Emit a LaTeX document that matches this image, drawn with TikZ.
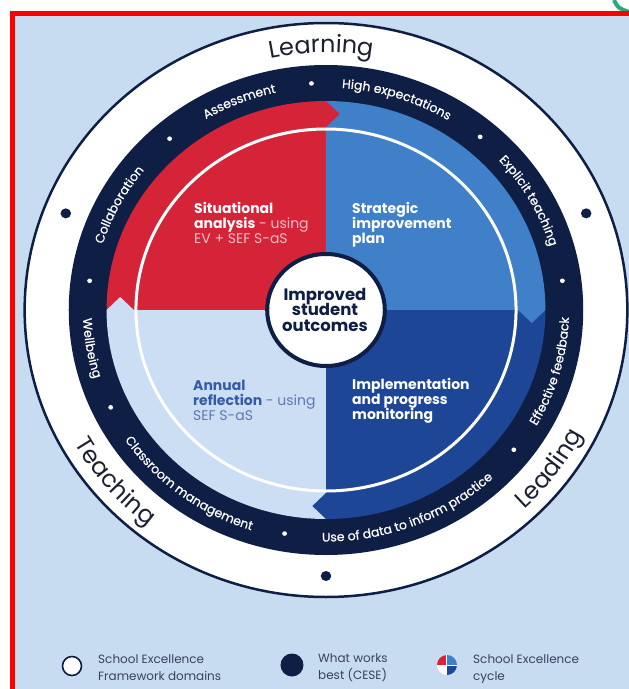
\documentclass[tikz,border=0pt]{standalone}
\usepackage{fontspec}
\setmainfont{Poppins}
\newfontfamily\bandfont[FakeBold=0.6]{Poppins}
\usetikzlibrary{decorations.text}
\definecolor{bgblue}{RGB}{199,220,241}
\definecolor{navy}{RGB}{14,30,68}
\definecolor{cred}{RGB}{213,36,56}
\definecolor{cblue}{RGB}{64,128,200}
\definecolor{cdark}{RGB}{30,70,150}
\definecolor{clight}{RGB}{203,222,243}
\definecolor{pinktxt}{RGB}{245,190,198}
\definecolor{annualbold}{RGB}{55,90,165}
\definecolor{annualreg}{RGB}{95,120,175}
\definecolor{legtxt}{RGB}{55,66,92}
\definecolor{ringtxt}{RGB}{28,32,48}
\definecolor{cgreen}{RGB}{40,170,120}
\newcommand\toparc[4]{\path[decorate,decoration={text along path,text align=center,text={#4}}] ({#1+#3}:#2) arc[start angle={#1+#3}, end angle={#1-#3}, radius=#2];}
\newcommand\botarc[4]{\path[decorate,decoration={text along path,text align=center,text={#4}}] ({#1-#3}:#2) arc[start angle={#1-#3}, end angle={#1+#3}, radius=#2];}
\tikzset{
  qbold/.style={anchor=base west, inner sep=0, font=\fontsize{14}{15}\selectfont\bfseries},
  qreg/.style={anchor=base west, inner sep=0, font=\fontsize{14}{15}\selectfont},
  ctr/.style={anchor=base, inner sep=0, font=\fontsize{16.5}{16}\selectfont\bfseries, text=navy},
  legtext/.style={anchor=base west, inner sep=0, font=\fontsize{12}{14}\selectfont, text=legtxt},
}
\begin{document}
\begin{tikzpicture}[x=1pt,y=1pt]
\useasboundingbox (-326,-379) rectangle (303,310);
\fill[white] (-326,-379) rectangle (303,310);
\draw[cgreen, line width=4] (288,310) .. controls (292,302) .. (303,298);
\fill[bgblue] (-313,-379) rectangle (303,297);
\draw[red, line width=5] (-313,-379) -- (-313,297) -- (303,297);
\begin{scope}[xscale=1.05]
  \draw[navy, line width=2.5, fill=white] (0,0) circle (287);
  \fill[navy] (0,0) circle (245);
  \fill[cred] (0,0) -- (180:209) arc[start angle=180,end angle=90,radius=209] -- cycle;
  \fill[cblue] (0,0) -- (90:209) arc[start angle=90,end angle=0,radius=209] -- cycle;
  \fill[cdark] (0,0) -- (0:209) arc[start angle=0,end angle=-90,radius=209] -- cycle;
  \fill[clight] (0,0) -- (-90:209) arc[start angle=-90,end angle=-180,radius=209] -- cycle;
  \fill[cred] (0,209) -- (13,196) -- (0,183) -- cycle;
  \fill[cblue] (209,0) -- (196,-13) -- (183,0) -- cycle;
  \fill[cdark] (0,-209) -- (-13,-196) -- (0,-183) -- cycle;
  \fill[clight] (-209,0) -- (-196,13) -- (-183,0) -- cycle;
  \draw[white, line width=3] (0,0) circle (181);
  \draw[navy, line width=4, fill=white] (0,0) circle (56);
  % dots in navy band
  \foreach \a in {93.5,49.7,7.4,-38,260,205.4,172.6,131} \fill[white] (\a:227) circle (2.3);
  % dots in white ring
  \foreach \a in {158.7,21.3,270} \fill[navy] (\a:266) circle (5);
  % navy band labels
  \toparc{112}{222.5}{40}{|\bandfont\fontsize{12.5}{14}\selectfont\color{white}|Assessment}
  \toparc{72}{222.5}{40}{|\bandfont\fontsize{12.5}{14}\selectfont\color{white}|High expectations}
  \toparc{29}{222.5}{40}{|\bandfont\fontsize{12.5}{14}\selectfont\color{white}|Explicit teaching}
  \toparc{152.4}{222.5}{40}{|\bandfont\fontsize{12.5}{14}\selectfont\color{white}|Collaboration}
  \botarc{-15.7}{231.5}{40}{|\bandfont\fontsize{12.5}{14}\selectfont\color{white}|Effective feedback}
  \botarc{-68.5}{231.5}{40}{|\bandfont\fontsize{12.5}{14}\selectfont\color{white}|Use of data to inform practice}
  \botarc{232.7}{231.5}{40}{|\bandfont\fontsize{12.5}{14}\selectfont\color{white}|Classroom management}
  \botarc{189.5}{231.5}{40}{|\bandfont\fontsize{12.5}{14}\selectfont\color{white}|Wellbeing}
  % outer ring labels
  \toparc{91}{257.5}{40}{|\fontsize{24}{26}\selectfont\color{ringtxt}|Learning}
  \botarc{220}{274.5}{40}{|\fontsize{24}{26}\selectfont\color{ringtxt}|Teaching}
  \botarc{-36.3}{274.5}{40}{|\fontsize{24}{26}\selectfont\color{ringtxt}|Leading}
\end{scope}
% quadrant texts
\node[qbold, text=white] (s1) at (-132,97) {Situational};
\node[qbold, text=white] (s2) at (-132,82) {analysis\mdseries\color{pinktxt}{} - using};
\node[qreg, text=pinktxt] (s3) at (-132,67) {EV + SEF S-aS};
\node[qbold, text=white] (p1) at (26,97) {Strategic};
\node[qbold, text=white] (p2) at (26,82) {improvement};
\node[qbold, text=white] (p3) at (26,67) {plan};
\node[ctr] (c1) at (-1,10) {Improved};
\node[ctr] (c2) at (-1,-5.7) {student};
\node[ctr] (c3) at (-1,-21.7) {outcomes};
\node[qbold, text=annualbold] (a1) at (-133,-80) {Annual};
\node[qbold, text=annualbold] (a2) at (-133,-95) {reflection\mdseries\color{annualreg}{} - using};
\node[qreg, text=annualreg] (a3) at (-133,-110) {SEF S-aS};
\node[qbold, text=white] (i1) at (26,-79) {Implementation};
\node[qbold, text=white] (i2) at (26,-94) {and progress};
\node[qbold, text=white] (i3) at (26,-109) {monitoring};
% legend
\node[circle, draw=navy, fill=white, line width=1.6, minimum size=19, inner sep=0] (lg1) at (-254,-356) {};
\node[legtext] (lt1) at (-228,-353) {School Excellence};
\node[legtext] (lt2) at (-228,-370) {Framework domains};
\node[circle, fill=navy, minimum size=23, inner sep=0] (lg2) at (-34,-355) {};
\node[legtext] (lt3) at (-8,-352) {What works};
\node[legtext] (lt4) at (-8,-369) {best (CESE)};
\coordinate (ic) at (121,-355);
\fill[cred] (ic) -- ++(180:10) arc[start angle=180,end angle=90,radius=10] -- cycle;
\fill[cblue] (ic) -- ++(90:10) arc[start angle=90,end angle=0,radius=10] -- cycle;
\fill[cdark] (ic) -- ++(0:10) arc[start angle=0,end angle=-90,radius=10] -- cycle;
\fill[white] (ic) -- ++(-90:10) arc[start angle=-90,end angle=-180,radius=10] -- cycle;
\draw[white, line width=1] (ic) ++(-10,0) -- ++(20,0) (ic) ++(0,-10) -- ++(0,20);
\node[legtext] (lt5) at (147,-353) {School Excellence};
\node[legtext] (lt6) at (147,-370) {cycle};
\end{tikzpicture}
\end{document}
